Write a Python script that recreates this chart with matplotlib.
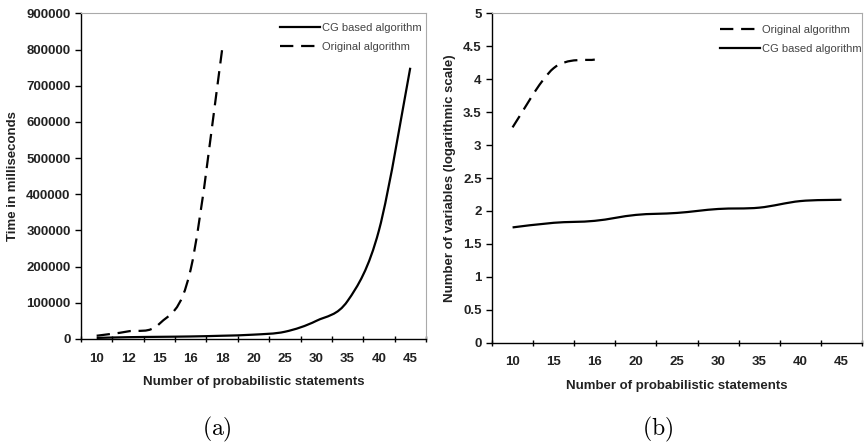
import numpy as np
import matplotlib.pyplot as plt
from matplotlib.path import Path
from matplotlib.patches import PathPatch
from matplotlib.lines import Line2D

# panel (a): running time
cats_a = ["10", "12", "15", "16", "18", "20", "25", "30", "35", "40", "45"]
cg_time = [3000, 5000, 6000, 7000, 9000, 12000, 20000, 50000, 105000, 300000, 750000]
orig_time = [9000, 21000, 42000, 193000, 800000]

# panel (b): number of variables (log scale)
cats_b = ["10", "15", "16", "20", "25", "30", "35", "40", "45"]
orig_vars = [3.27, 4.17, 4.3]
cg_vars = [1.75, 1.82, 1.85, 1.94, 1.97, 2.03, 2.05, 2.15, 2.17]

plt.rcParams['font.family'] = ['Liberation Sans', 'DejaVu Sans']
plt.rcParams['mathtext.fontset'] = 'cm'
tick_col = '#222222'
fs = 9.5


def smooth_line(ax, x, y, dashed=False):
    # excel style "smoothed line": cubic bezier through the points
    x = np.asarray(x, float)
    y = np.asarray(y, float)
    verts = [(x[0], y[0])]
    codes = [Path.MOVETO]
    n = len(x)
    for i in range(n - 1):
        p0 = max(i - 1, 0)
        p3 = min(i + 2, n - 1)
        c1 = (x[i] + (x[i + 1] - x[p0]) / 6, y[i] + (y[i + 1] - y[p0]) / 6)
        c2 = (x[i + 1] - (x[p3] - x[i]) / 6, y[i + 1] - (y[p3] - y[i]) / 6)
        verts += [c1, c2, (x[i + 1], y[i + 1])]
        codes += [Path.CURVE4] * 3
    patch = PathPatch(Path(verts, codes), facecolor='none', edgecolor='black',
                      lw=1.6, capstyle='butt')
    if dashed:
        patch.set_linestyle((0, (6, 3.5)))
    ax.add_patch(patch)


fig = plt.figure(figsize=(8.67, 4.44), dpi=100)
ax1 = fig.add_axes([0.0934, 0.2365, 0.3979, 0.7331])
ax2 = fig.add_axes([0.5675, 0.2284, 0.4267, 0.7412])


def style(ax, cats):
    n = len(cats)
    ax.set_xlim(-0.5, n - 0.5)
    ax.set_xticks(np.arange(-0.5, n, 1.0))
    ax.set_xticklabels([])
    ax.set_xticks(np.arange(n), minor=True)
    ax.set_xticklabels(cats, minor=True, fontweight='bold', fontsize=fs, color=tick_col)
    ax.tick_params(axis='x', which='minor', length=0, pad=10)
    ax.tick_params(axis='x', which='major', length=4, width=1, direction='inout')
    ax.tick_params(axis='y', length=4, width=1, labelsize=fs, labelcolor=tick_col)
    for lbl in ax.get_yticklabels():
        lbl.set_fontweight('bold')
    for s in ['top', 'right']:
        ax.spines[s].set_color('#aaaaaa')
        ax.spines[s].set_linewidth(0.8)
    for s in ['left', 'bottom']:
        ax.spines[s].set_color('black')
        ax.spines[s].set_linewidth(1.0)
    ax.set_xlabel("Number of probabilistic statements", fontweight='bold',
                  fontsize=fs, color=tick_col, labelpad=8)


solid_h = Line2D([], [], color='black', lw=1.6)
dash_h = Line2D([], [], color='black', lw=1.6, dashes=(6, 3.5))

# (a)
x_a = np.arange(len(cats_a))
smooth_line(ax1, x_a, cg_time)
smooth_line(ax1, x_a[:len(orig_time)], orig_time, dashed=True)
ax1.set_ylim(0, 900000)
ax1.set_yticks(np.arange(0, 900001, 100000))
ax1.set_yticklabels([str(v) for v in range(0, 900001, 100000)])
style(ax1, cats_a)
ax1.set_ylabel("Time in milliseconds", fontweight='bold', fontsize=fs,
               color=tick_col, labelpad=5)
ax1.legend([solid_h, dash_h], ['CG based algorithm', 'Original algorithm'],
           loc='upper right', frameon=False, fontsize=8, handlelength=3.6,
           handletextpad=0.2, labelcolor='#444444', borderaxespad=0.0,
           bbox_to_anchor=(1.0, 0.985), labelspacing=0.85)

# (b)
x_b = np.arange(len(cats_b))
smooth_line(ax2, x_b[:len(orig_vars)], orig_vars, dashed=True)
smooth_line(ax2, x_b, cg_vars)
ax2.set_ylim(0, 5)
ax2.set_yticks(np.arange(0, 5.01, 0.5))
ax2.set_yticklabels(["0", "0.5", "1", "1.5", "2", "2.5", "3", "3.5", "4", "4.5", "5"])
style(ax2, cats_b)
ax2.set_ylabel("Number of variables (logarithmic scale)", fontweight='bold',
               fontsize=fs, color=tick_col, labelpad=5)
ax2.legend([dash_h, solid_h], ['Original algorithm', 'CG based algorithm'],
           loc='upper right', frameon=False, fontsize=8, handlelength=3.6,
           handletextpad=0.2, labelcolor='#444444', borderaxespad=0.0,
           bbox_to_anchor=(1.012, 0.98), labelspacing=0.85)

fig.text(0.25, 0.032, r'$\mathrm{(a)}$', ha='center', va='center', fontsize=17)
fig.text(0.758, 0.032, r'$\mathrm{(b)}$', ha='center', va='center', fontsize=17)

fig.savefig("out.png", dpi=100)
